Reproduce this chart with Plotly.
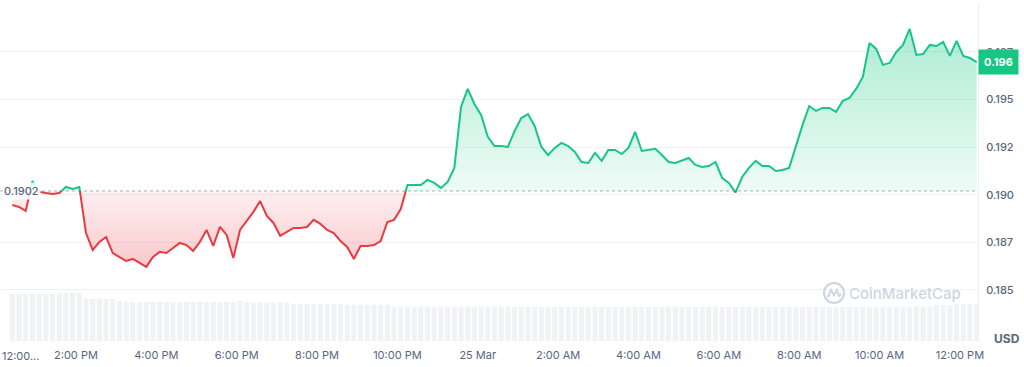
import plotly.graph_objects as go
import pandas as pd

# ---------------- data ----------------
start_time = "2024-03-24 12:25"
step = "10min"

price = [
    0.18946, 0.18936, 0.18915, 0.19072, 0.19015, 0.19009, 0.19004, 0.19009, 0.19041, 0.19030,
    0.19041, 0.18799, 0.18710, 0.18752, 0.18778, 0.18694, 0.18673, 0.18652, 0.18663, 0.18642,
    0.18621, 0.18673, 0.18700, 0.18694, 0.18721, 0.18747, 0.18736, 0.18705, 0.18752, 0.18815,
    0.18731, 0.18831, 0.18789, 0.18668, 0.18815, 0.18862, 0.18910, 0.18967, 0.18889, 0.18852,
    0.18784, 0.18805, 0.18826, 0.18826, 0.18831, 0.18868, 0.18847, 0.18815, 0.18799, 0.18757,
    0.18726, 0.18663, 0.18731, 0.18731, 0.18736, 0.18757, 0.18857, 0.18868, 0.18925, 0.19051,
    0.19051, 0.19051, 0.19078, 0.19062, 0.19036, 0.19067, 0.19141, 0.19461, 0.19556, 0.19477,
    0.19419, 0.19304, 0.19256, 0.19256, 0.19251, 0.19335, 0.19403, 0.19424, 0.19361, 0.19251,
    0.19209, 0.19246, 0.19272, 0.19256, 0.19225, 0.19172, 0.19167, 0.19220, 0.19178, 0.19235,
    0.19235, 0.19214, 0.19246, 0.19330, 0.19230, 0.19235, 0.19241, 0.19209, 0.19172, 0.19167,
    0.19178, 0.19193, 0.19157, 0.19146, 0.19151, 0.19172, 0.19088, 0.19062, 0.19012, 0.19094,
    0.19141, 0.19178, 0.19151, 0.19151, 0.19125, 0.19130, 0.19141, 0.19256, 0.19367, 0.19466,
    0.19440, 0.19456, 0.19456, 0.19435, 0.19493, 0.19508, 0.19556, 0.19619, 0.19797, 0.19766,
    0.19682, 0.19692, 0.19750, 0.19787, 0.19871, 0.19734, 0.19739, 0.19787, 0.19781, 0.19802,
    0.19729, 0.19808, 0.19729, 0.19718, 0.19697,
]

volume_musd = [
    470, 470, 470, 470, 470, 470, 470, 480, 480, 480,
    480, 420, 420, 420, 420, 420, 400, 390, 390, 390,
    390, 390, 390, 390, 390, 390, 390, 390, 390, 390,
    390, 390, 390, 390, 400, 387, 387, 387, 387, 387,
    387, 387, 370, 370, 370, 370, 370, 370, 370, 370,
    363, 363, 363, 363, 363, 363, 363, 343, 343, 343,
    343, 343, 343, 343, 343, 343, 343, 343, 343, 343,
    343, 343, 343, 343, 343, 340, 340, 340, 340, 340,
    340, 340, 340, 340, 340, 340, 340, 340, 340, 340,
    340, 340, 340, 340, 340, 340, 340, 340, 340, 340,
    340, 340, 340, 340, 340, 340, 340, 340, 340, 340,
    340, 340, 340, 340, 340, 340, 340, 340, 340, 340,
    340, 340, 340, 340, 340, 340, 340, 342, 342, 342,
    345, 345, 345, 345, 345, 345, 345, 345, 360, 360,
    360, 370, 370, 370, 370,
]

baseline_price = 0.1902
baseline_label = "0.1902"
last_price_label = "0.196"

y_tick_values = [0.185, 0.1875, 0.19, 0.1925, 0.195, 0.1975]
y_tick_labels = ["0.185", "0.187", "0.190", "0.192", "0.195", "0.197"]

x_tick_values = [
    "2024-03-24 14:00", "2024-03-24 16:00", "2024-03-24 18:00", "2024-03-24 20:00",
    "2024-03-24 22:00", "2024-03-25 00:00", "2024-03-25 02:00", "2024-03-25 04:00",
    "2024-03-25 06:00", "2024-03-25 08:00", "2024-03-25 10:00", "2024-03-25 12:00",
]
x_tick_labels = [
    "2:00 PM", "4:00 PM", "6:00 PM", "8:00 PM", "10:00 PM", "25 Mar",
    "2:00 AM", "4:00 AM", "6:00 AM", "8:00 AM", "10:00 AM", "12:00 PM",
]
first_tick_label = "12:00..."

# ---------------- styling ----------------
GREEN = "#16c784"
RED = "#ea3943"
TXT = "#58667e"
FONT = "Inter"

times = list(pd.date_range(start_time, periods=len(price), freq=step))

# split the price line into runs above / below the baseline
segments = []
cur_t, cur_v = [times[0]], [price[0]]
cur_up = price[0] >= baseline_price
for i in range(1, len(price)):
    up = price[i] >= baseline_price
    if up != cur_up:
        f = (baseline_price - price[i - 1]) / (price[i] - price[i - 1])
        tc = times[i - 1] + (times[i] - times[i - 1]) * f
        cur_t.append(tc)
        cur_v.append(baseline_price)
        segments.append((cur_up, cur_t, cur_v))
        cur_t, cur_v, cur_up = [tc], [baseline_price], up
    cur_t.append(times[i])
    cur_v.append(price[i])
segments.append((cur_up, cur_t, cur_v))

fig = go.Figure()

# volume bars
fig.add_trace(go.Bar(
    x=times, y=volume_musd, yaxis="y2",
    marker=dict(color="#f0f2f5", line=dict(width=0)),
    hoverinfo="skip", showlegend=False,
))

for up, ts, vs in segments:
    poly_x = ts + ts[::-1]
    poly_y = vs + [baseline_price] * len(vs)
    if up:
        grad = dict(type="vertical",
                    colorscale=[[0, "rgba(22,199,132,0.07)"], [1, "rgba(22,199,132,0.36)"]],
                    start=baseline_price, stop=0.1990)
    else:
        grad = dict(type="vertical",
                    colorscale=[[0, "rgba(234,57,67,0.28)"], [1, "rgba(234,57,67,0.08)"]],
                    start=0.1860, stop=baseline_price)
    fig.add_trace(go.Scatter(
        x=poly_x, y=poly_y, mode="lines", fill="toself",
        fillgradient=grad, line=dict(width=0),
        hoverinfo="skip", showlegend=False,
    ))

for up, ts, vs in segments:
    fig.add_trace(go.Scatter(
        x=ts, y=vs, mode="lines",
        line=dict(color=GREEN if up else RED, width=2),
        hoverinfo="skip", showlegend=False,
    ))

fig.update_layout(
    width=1024, height=367,
    margin=dict(l=0, r=46, t=3, b=26),
    paper_bgcolor="white", plot_bgcolor="white",
    bargap=0.25,
    font=dict(family=FONT, color=TXT, size=11),
    xaxis=dict(
        range=[pd.Timestamp("2024-03-24 12:06:34"), pd.Timestamp("2024-03-25 12:27:00")],
        showgrid=False, zeroline=False, showline=False,
        tickvals=[pd.Timestamp(t) for t in x_tick_values], ticktext=x_tick_labels,
        ticks="", ticklabelstandoff=6,
        tickfont=dict(family=FONT, size=11, color=TXT),
    ),
    yaxis=dict(
        side="right", range=[0.18232, 0.20007],
        tickvals=y_tick_values, ticktext=y_tick_labels,
        showgrid=True, gridcolor="#eff2f5", gridwidth=1,
        zeroline=False, showline=True, linecolor="#eceff3", linewidth=1,
        ticks="", ticklabelstandoff=5,
        tickfont=dict(family=FONT, size=11, color=TXT, weight=500),
    ),
    yaxis2=dict(overlaying="y", range=[0, 3380], visible=False),
    shapes=[
        dict(type="line", xref="paper", x0=0, x1=1, yref="y",
             y0=baseline_price, y1=baseline_price,
             line=dict(color="#a6b0c3", width=1, dash="dot"), layer="below"),
        dict(type="circle", xref="paper", xsizemode="pixel", xanchor=834 / 978,
             x0=-10, x1=10, yref="paper", ysizemode="pixel", yanchor=(341 - 293) / 338,
             y0=-10, y1=10, line=dict(color="#cfd5e0", width=2.2)),
        dict(type="path", xref="paper", xsizemode="pixel", xanchor=834 / 978,
             yref="paper", ysizemode="pixel", yanchor=(341 - 293) / 338,
             path="M -6,-4 L -3,3 L 0,-2 L 3,3 L 5,-3 L 7,-1",
             line=dict(color="#cfd5e0", width=2)),
    ],
    annotations=[
        dict(xref="paper", x=0, xanchor="left", xshift=2, yref="y", y=baseline_price,
             yanchor="middle", text=baseline_label, showarrow=False,
             bgcolor="rgba(255,255,255,0.85)", borderpad=1,
             font=dict(family=FONT, size=11, color=TXT, weight=500)),
        dict(xref="paper", x=1, xanchor="left", yref="y", y=price[-1], yanchor="middle",
             text="<b>" + last_price_label + "</b>", showarrow=False,
             bgcolor=GREEN, width=33, height=18, borderpad=3,
             font=dict(family=FONT, size=11, color="white")),
        dict(xref="paper", x=0, xanchor="left", yref="paper", y=0, yanchor="top",
             yshift=-6, text=first_tick_label, showarrow=False,
             font=dict(family=FONT, size=11, color=TXT)),
        dict(xref="paper", x=1, xanchor="left", xshift=14, yref="paper", y=0,
             yanchor="middle", yshift=3, text="<b>USD</b>", showarrow=False,
             font=dict(family=FONT, size=12, color=TXT)),
        dict(xref="paper", x=847 / 978, xanchor="left", yref="paper", y=(341 - 293) / 338,
             yanchor="middle", text="CoinMarketCap", showarrow=False,
             font=dict(family=FONT, size=15, color="#cfd5e0", weight=500)),
    ],
)

fig.write_html("out.html", config={"displayModeBar": False},
               post_script="document.body.style.margin='0';")
